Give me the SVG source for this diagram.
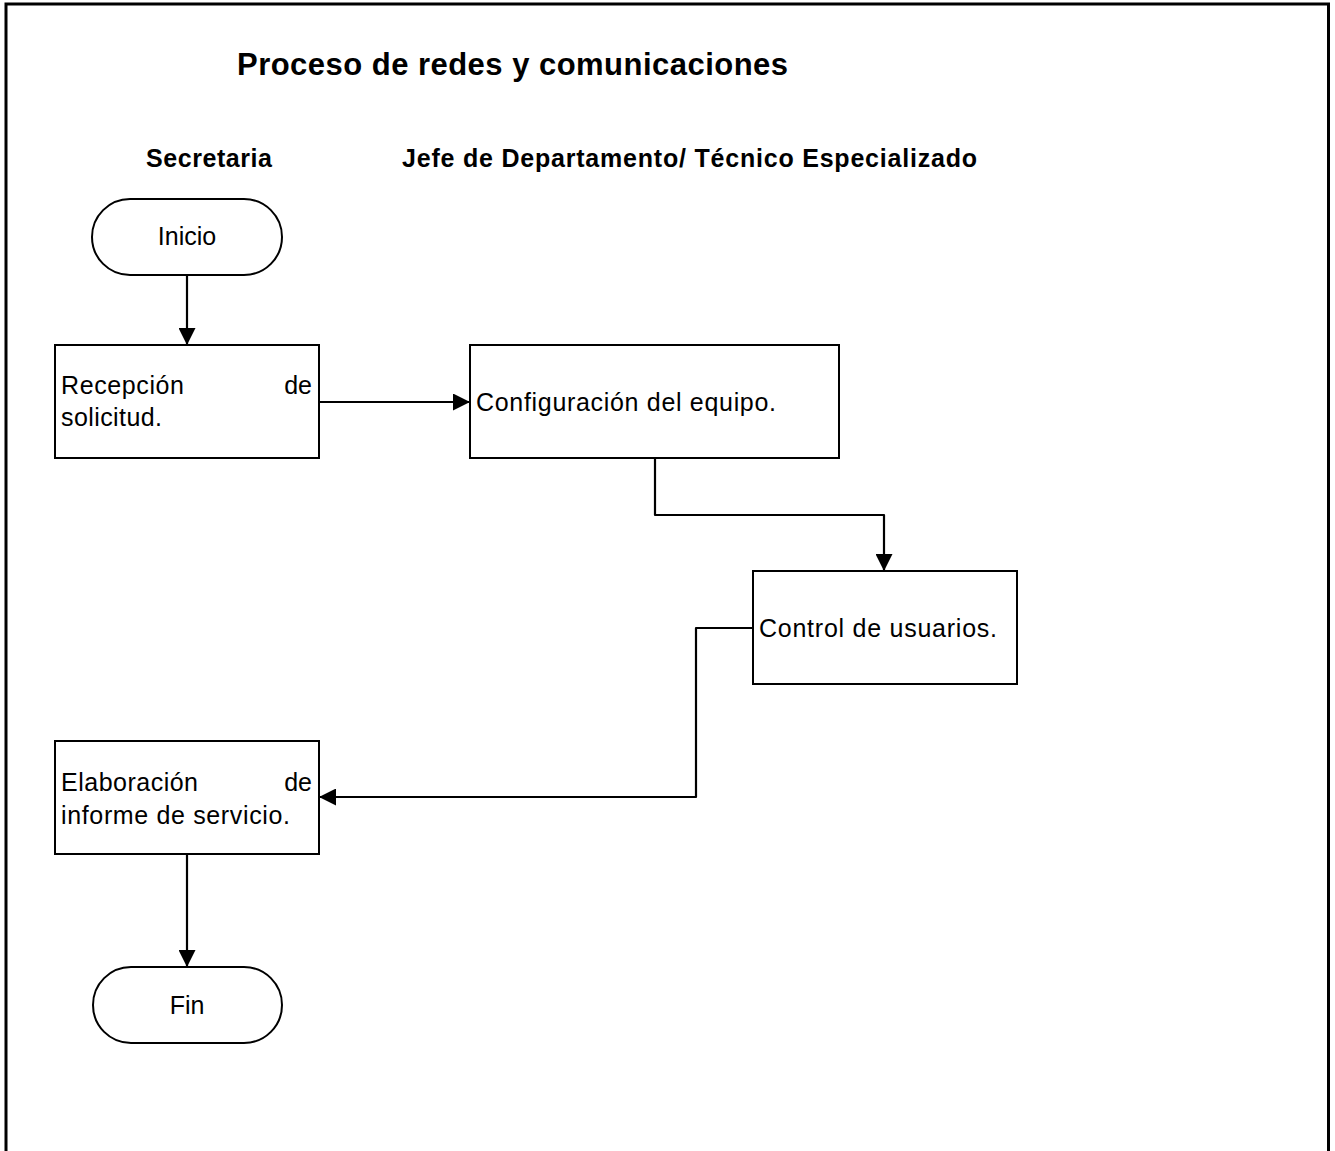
<svg xmlns="http://www.w3.org/2000/svg" width="1335" height="1151" viewBox="0 0 1335 1151">
  <style>
    .shape { fill: #ffffff; stroke: #000000; stroke-width: 2; }
    .conn { fill: none; stroke: #000000; stroke-width: 2.2; stroke-linejoin: round; }
    .txt { font-family: "Liberation Sans", Arial, sans-serif; font-size: 25px; fill: #000000; }
    .hdr { font-family: "Liberation Sans", Arial, sans-serif; font-size: 25px; font-weight: bold; fill: #000000; }
    .title { font-family: "Liberation Sans", Arial, sans-serif; font-size: 31px; font-weight: bold; fill: #000000; }
  </style>
  <defs>
    <marker id="arrow" viewBox="0 0 17 17" refX="17" refY="8.5" markerWidth="17" markerHeight="17" markerUnits="userSpaceOnUse" orient="auto">
      <path d="M0,0 L17,8.5 L0,17 Z" fill="#000000"/>
    </marker>
  </defs>

  <rect x="0" y="0" width="1335" height="1151" fill="#ffffff"/>

  <!-- page frame, open at the bottom -->
  <path d="M6,1151 V4 H1328.5 V1151" fill="none" stroke="#000000" stroke-width="3"/>

  <!-- headings -->
  <text class="title" x="237" y="75" textLength="551">Proceso de redes y comunicaciones</text>
  <text class="hdr" x="146" y="167" textLength="126">Secretaria</text>
  <text class="hdr" x="402" y="167" textLength="575">Jefe de Departamento/ Técnico Especializado</text>

  <!-- connectors -->
  <g id="connectors">
    <path class="conn" d="M187,275 V345" marker-end="url(#arrow)"/>
    <path class="conn" d="M319,402 H470" marker-end="url(#arrow)"/>
    <path class="conn" d="M655,458 V515 H884 V571" marker-end="url(#arrow)"/>
    <path class="conn" d="M753,628 H696 V797 H319" marker-end="url(#arrow)"/>
    <path class="conn" d="M187,854 V967" marker-end="url(#arrow)"/>
  </g>

  <g id="inicio">
    <rect class="shape" x="92" y="199" width="190" height="76" rx="38" ry="38"/>
    <text class="txt" x="187" y="245" text-anchor="middle">Inicio</text>
  </g>

  <g id="recepcion">
    <rect class="shape" x="55" y="345" width="264" height="113"/>
    <text class="txt" x="61" y="394" textLength="123">Recepción</text>
    <text class="txt" x="312" y="394" text-anchor="end">de</text>
    <text class="txt" x="61" y="426" textLength="101">solicitud.</text>
  </g>

  <g id="configuracion">
    <rect class="shape" x="470" y="345" width="369" height="113"/>
    <text class="txt" x="476" y="411" textLength="300">Configuración del equipo.</text>
  </g>

  <g id="control">
    <rect class="shape" x="753" y="571" width="264" height="113"/>
    <text class="txt" x="759" y="637" textLength="238">Control de usuarios.</text>
  </g>

  <g id="elaboracion">
    <rect class="shape" x="55" y="741" width="264" height="113"/>
    <text class="txt" x="61" y="791" textLength="137">Elaboración</text>
    <text class="txt" x="312" y="791" text-anchor="end">de</text>
    <text class="txt" x="61" y="824" textLength="229">informe de servicio.</text>
  </g>

  <g id="fin">
    <rect class="shape" x="93" y="967" width="189" height="76" rx="38" ry="38"/>
    <text class="txt" x="187" y="1014" text-anchor="middle">Fin</text>
  </g>
</svg>
